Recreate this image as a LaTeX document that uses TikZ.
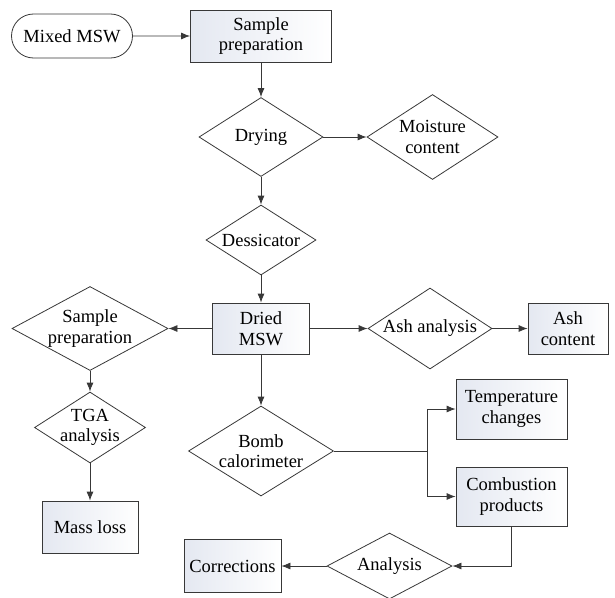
\documentclass[tikz,border=0pt]{standalone}
\usepackage{fontspec}
\setmainfont{Liberation Serif}
\usetikzlibrary{shapes.geometric, shapes.misc, arrows.meta}
\definecolor{edge}{HTML}{383838}
\definecolor{boxtop}{HTML}{E4E8F1}

\begin{document}
\begin{tikzpicture}[x=1pt, y=-1pt,
  every node/.style={draw=edge, line width=0.8pt, align=center, inner sep=0pt,
    font=\rmfamily\fontsize{18.5}{20.5}\selectfont},
  box/.style={rectangle, left color=boxtop, right color=white},
  test/.style={diamond, fill=white},
  link/.style={line width=0.8pt, draw=edge},
  arr/.style={link, -{Latex[length=9pt, width=7pt]}}]

\useasboundingbox (0,0) rectangle (615,597);

% Define the steps
\node[rounded rectangle, fill=white, minimum width=121pt, minimum height=44pt] (msw) at (72, 36) {Mixed MSW};
\node[box, minimum width=141pt, minimum height=52pt] (prep) at (261, 36) {Sample\\preparation};

\node[test, aspect=1.57, minimum width=124pt, minimum height=79pt] (dry) at (261, 137) {Drying};
\node[test, aspect=1.54, minimum width=131pt, minimum height=85pt] (moist) at (432.5, 137) {Moisture\\content};
\node[test, aspect=1.57, minimum width=110pt, minimum height=70pt] (dess) at (261, 240) {Dessicator};

\node[box, minimum width=97pt, minimum height=51pt] (dried) at (261, 328.5) {Dried\\MSW};
\node[test, aspect=1.86, inner sep=-2pt, minimum width=156pt, minimum height=84pt] (prep2) at (90, 328.5) {Sample\\preparation};
\node[test, aspect=1.53, inner sep=-2pt, minimum width=124pt, minimum height=81pt] (ash) at (430, 328.5) {Ash analysis};
\node[box, minimum width=80pt, minimum height=51pt] (ashc) at (568, 328.5) {Ash\\content};

\node[test, aspect=1.56, inner sep=-5pt, minimum width=111pt, minimum height=71pt] (tga) at (90, 427.5) {TGA\\analysis};
\node[box, minimum width=96pt, minimum height=52pt] (mass) at (90, 527) {Mass loss};

\node[test, aspect=1.61, inner sep=-2pt, minimum width=145pt, minimum height=90pt] (bomb) at (261, 451) {Bomb\\calorimeter};
\node[box, minimum width=111pt, minimum height=60pt] (temp) at (511.5, 409) {Temperature\\changes};
\node[box, minimum width=111pt, minimum height=59pt] (comb) at (511.5, 496.5) {Combustion\\products};

\node[test, aspect=1.89, minimum width=125pt, minimum height=66pt] (anal) at (389.5, 566) {Analysis};
\node[box, minimum width=97pt, minimum height=53pt] (corr) at (232.5, 566) {Corrections};

\coordinate (split) at (427, 451);

% Main line
\draw[arr] (msw) -- (prep);
\draw[arr] (prep) -- (dry);
\draw[arr] (dry) -- (moist);
\draw[arr] (dry) -- (dess);
\draw[arr] (dess) -- (dried);

% Branches from the dried sample
\draw[arr] (dried) -- (prep2);
\draw[arr] (dried) -- (ash);
\draw[arr] (ash) -- (ashc);
\draw[arr] (prep2) -- (tga);
\draw[arr] (tga) -- (mass);
\draw[arr] (dried) -- (bomb);

% Calorimeter outputs
\draw[link] (bomb.east) -- (split);
\draw[arr] (split) |- (temp.west);
\draw[arr] (split) |- (comb.west);
\draw[arr] (comb.south) |- (anal.east);
\draw[arr] (anal) -- (corr);

\end{tikzpicture}
\end{document}
